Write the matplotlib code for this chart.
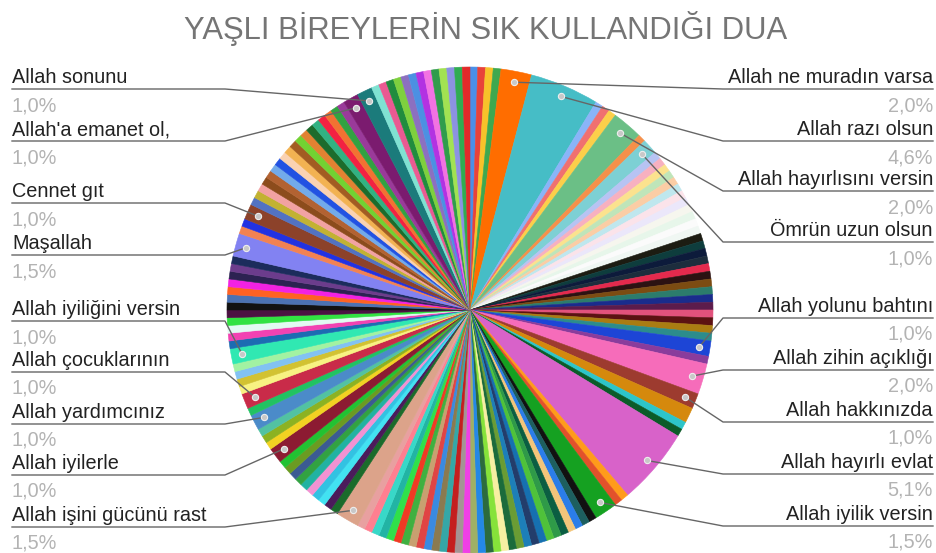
import numpy as np
import matplotlib
matplotlib.use('Agg')
import matplotlib.pyplot as plt

plt.rcParams['font.family'] = ['Liberation Sans', 'DejaVu Sans']

title = "YAŞLI BİREYLERİN SIK KULLANDIĞI DUA"

# answer counts, clockwise from 12 o'clock (N = 196)
counts = [
    1, 1, 1, 1,
    4, 9,
    1, 1, 1,
    4, 1, 2,
    1, 1, 1, 1, 1, 1, 1, 1, 1, 1, 1, 1,
    1, 1, 1, 1, 1, 1, 1, 1, 1, 1, 1, 1, 1, 1,
    2, 1, 4, 2,
    2, 1, 1,
    10, 1, 1, 3,
    1, 1, 1, 1, 1, 1, 1, 1, 1, 1, 1, 1, 1, 1, 1, 1,
    1, 1, 1, 1, 1, 1, 1, 1, 1, 1, 1, 1, 1, 1, 1, 1,
    3,
    1, 1, 1, 1, 1, 1, 1, 1, 1, 1,
    2, 1, 1, 1, 2, 1, 2,
    1, 1, 1, 1, 2,
    1, 1, 1, 1, 1, 1, 1, 1, 1, 1, 1, 1,
    3, 1, 1, 2,
    1, 1, 1, 1, 1, 1, 1, 1, 1, 1, 1, 1, 1, 1, 1, 1, 1, 1,
    2, 2,
    1, 1, 1, 1, 1, 1, 1, 1, 1, 1, 1, 1, 1,
]

labels = [
    '', '', '', '',
    'Allah ne muradın varsa', 'Allah razı olsun',
    '', '', '',
    'Allah hayırlısını versin', '', 'Ömrün uzun olsun',
    '', '', '', '', '', '', '', '', '', '', '', '',
    '', '', '', '', '', '', '', '', '', '', '', '', '', '',
    'Allah yolunu bahtını', '', 'Allah zihin açıklığı', 'Allah hakkınızda',
    '', '', '',
    'Allah hayırlı evlat', '', '', 'Allah iyilik versin',
    '', '', '', '', '', '', '', '', '', '', '', '', '', '', '', '',
    '', '', '', '', '', '', '', '', '', '', '', '', '', '', '', '',
    'Allah işini gücünü rast',
    '', '', '', '', '', '', '', '', '', '',
    'Allah iyilerle', '', '', '', 'Allah yardımcınız', '', 'Allah çocuklarının',
    '', '', '', '', 'Allah iyiliğini versin',
    '', '', '', '', '', '', '', '', '', '', '', '',
    'Maşallah', '', '', 'Cennet gıt',
    '', '', '', '', '', '', '', '', '', '', '', '', '', '', '', '', '', '',
    "Allah'a emanet ol,", 'Allah sonunu',
    '', '', '', '', '', '', '', '', '', '', '', '', '',
]

colors = [
    '#4a8fe8', '#e8423a', '#f7c22a', '#3ea84f',
    '#ff6d00', '#46bdc6',
    '#8ab4f8', '#f07070', '#fccf4a',
    '#6bbf86', '#f5904a', '#7dd0d4',
    '#b7c3f3', '#f7b0c0', '#fbe28e', '#bfe5b9', '#fbcda5', '#bfe7ee',
    '#fbe3ea', '#ebe7fa', '#f6f6ee', '#e7f6ea', '#fbfbfb', '#f0f7f3',
    '#1c1c12', '#0e3d3d', '#0d1b3b', '#1d2d3d', '#e42a4d', '#2c1212', '#7c4c12',
    '#2c7c6c', '#1a2c8c', '#5c1c4c', '#e2527c', '#5c1212', '#aa7c12', '#2c8c8c',
    '#1d45d6', '#8a3c9c', '#f66cba', '#9d3b2f',
    '#d5890d', '#2dc5c9', '#0b5b29',
    '#d862c9', '#ff9b1b', '#e2512b', '#15a121',
    '#111111', '#1d5f5f', '#2b7de9', '#f3c57a', '#0b5e42', '#2f9a48', '#4fc23a', '#1670b0',
    '#233d6b', '#1d7fb8', '#6a9c34', '#1b6b3b', '#f7efa2', '#86e23a', '#2c6b3d', '#2488e6',
    '#9fb065', '#f03fe6', '#a49494', '#c41f1f', '#35a7a7', '#8a7a50', '#3a8ae0', '#e04444',
    '#c8a070', '#40b040', '#f03a24', '#30e04a', '#22b4a4', '#38d8c8', '#ff7f90', '#e8a0a0',
    '#dca38a',
    '#1b6b2b', '#4b1b5b', '#42e2f2', '#32c2e2', '#f292d2', '#22b2a2', '#32a242', '#3b5b92',
    '#6b9b22', '#22c232',
    '#8c1b32', '#f2d222', '#8cb222', '#52c2a2', '#4b8bc9', '#22c262', '#c92b49',
    '#f8f282', '#d2c232', '#82c2f2', '#a2f2a2', '#30e8b2',
    '#1c6cb2', '#f242b2', '#e2faf2', '#32e242', '#4c1242', '#121212', '#4c72b2', '#ff6222',
    '#f222e2', '#2c2252', '#6c3c8c', '#1c2c5c',
    '#8282f2', '#f28252', '#2232e2', '#8c422a',
    '#5272c2', '#c2b232', '#f2a2a2', '#8c4c1c', '#b26232', '#72aaea', '#2252e2', '#fad2b2',
    '#f2b252', '#a25c22', '#72d232', '#e28232', '#1c6c2c', '#32b282', '#f22242', '#f27232',
    '#32a242', '#9a3a9a',
    '#7b1b6f', '#1b7b7b',
    '#80e2d2', '#ea5a92', '#208c3e', '#7ed03e', '#8c70c0', '#4c90e2', '#b232e2', '#f272e2',
    '#309c4c', '#a2e252', '#8c92e2', '#30ac52', '#e22a2a',
]

# label side and baseline (pixels from top)
label_place = {
    'Allah ne muradın varsa': ('r', 83), 'Allah razı olsun': ('r', 135),
    'Allah hayırlısını versin': ('r', 185), 'Ömrün uzun olsun': ('r', 236),
    'Allah yolunu bahtını': ('r', 312), 'Allah zihin açıklığı': ('r', 364),
    'Allah hakkınızda': ('r', 416), 'Allah hayırlı evlat': ('r', 468),
    'Allah iyilik versin': ('r', 520),
    'Allah sonunu': ('l', 83), "Allah'a emanet ol,": ('l', 135),
    'Cennet gıt': ('l', 197), 'Maşallah': ('l', 249),
    'Allah iyiliğini versin': ('l', 315), 'Allah çocuklarının': ('l', 366),
    'Allah yardımcınız': ('l', 418), 'Allah iyilerle': ('l', 469),
    'Allah işini gücünü rast': ('l', 521),
}

W, H = 937, 553
cx, cy, R = 470, H - 310, 243

fig = plt.figure(figsize=(W / 100, H / 100), dpi=100)
ax = fig.add_axes([0, 0, 1, 1])
wedges, _ = ax.pie(counts, colors=colors, startangle=90, counterclock=False,
                   radius=R, center=(cx, cy))
for w in wedges:
    w.set_edgecolor(w.get_facecolor())
    w.set_linewidth(0.4)
ax.set_xlim(0, W)
ax.set_ylim(0, H)
ax.set_aspect('equal')
ax.axis('off')

total = sum(counts)
for w, name, c in zip(wedges, labels, counts):
    if not name:
        continue
    side, yb = label_place[name]
    mid = np.deg2rad((w.theta1 + w.theta2) / 2)
    px = cx + 0.955 * R * np.cos(mid)
    py = cy + 0.955 * R * np.sin(mid)
    pct = f"{c / total * 100:.1f}%".replace('.', ',')
    yl = H - (yb + 6)
    if side == 'l':
        ax.plot([12, 225, px], [yl, yl, py], color='#666666', lw=1, zorder=5)
        tx, ha = 12, 'left'
    else:
        ax.plot([933, 723, px], [yl, yl, py], color='#666666', lw=1, zorder=5)
        tx, ha = 933, 'right'
    ax.plot(px, py, 'o', ms=4.5, mfc='#c8c8c8', mec='#eeeeee', mew=0.8, zorder=6)
    ax.text(tx, H - yb, name, ha=ha, va='baseline', fontsize=14.3, color='#222222')
    ax.text(tx, H - (yb + 28), pct, ha=ha, va='baseline', fontsize=14.3, color='#b3b3b3')

fig.text(486 / W, 1 - 39 / H, title, ha='center', va='baseline', fontsize=22.3, color='#757575')

fig.savefig('out.png', dpi=100)
